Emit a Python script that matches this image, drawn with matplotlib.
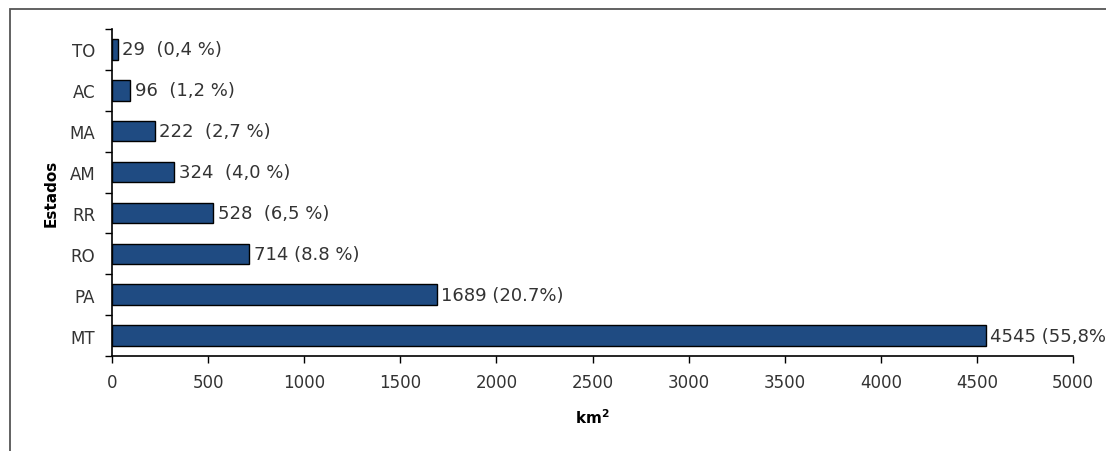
import matplotlib
matplotlib.use("Agg")
import matplotlib.pyplot as plt
from matplotlib.patches import Rectangle
import numpy as np

plt.rcParams['font.family'] = ['DejaVu Sans']

states = ["MT", "PA", "RO", "RR", "AM", "MA", "AC", "TO"]
values = [4545, 1689, 714, 528, 324, 222, 96, 29]
pct_labels = ["(55,8%)", "(20.7%)", "(8.8 %)", "(6,5 %)", "(4,0 %)", "(2,7 %)", "(1,2 %)", "(0,4 %)"]
separators = [" ", " ", " ", "  ", "  ", "  ", "  ", "  "]
xticks = [0, 500, 1000, 1500, 2000, 2500, 3000, 3500, 4000, 4500, 5000]

W, H = 1106, 452
FS = 12
fig = plt.figure(figsize=(W / 100, H / 100), dpi=100)
fig.patch.set_facecolor("white")

# outer frame (cropped on right/bottom)
fig.patches.append(Rectangle((10 / W, -0.05), 1.2, (H - 10) / H + 0.05,
                             transform=fig.transFigure, fill=False,
                             edgecolor="#555555", linewidth=1.3))

ax = fig.add_axes([112 / W, 1 - 357 / H, (1073 - 112) / W, (357 - 30) / H])
y = np.arange(len(states))
ax.barh(y, values, height=0.5, color="#1f4b82", edgecolor="black", linewidth=1.0, zorder=3)

for yi, v, s, p in zip(y, values, separators, pct_labels):
    ax.text(v + 25, yi, f"{v}{s}{p}", va="center", ha="left", fontsize=13,
            color="#333333", clip_on=False)

ax.set_xlim(0, 5000)
ax.set_ylim(-0.5, len(states) - 0.5)
ax.set_xticks(xticks)
ax.set_xticklabels([str(t) for t in xticks], fontsize=FS, color="#333333")
ax.set_yticks(y)
ax.set_yticklabels(states, fontsize=FS, color="#333333")
ax.set_yticks(np.arange(-0.5, len(states), 1.0), minor=True)
ax.tick_params(axis="y", which="major", length=0, pad=12)
ax.tick_params(axis="y", which="minor", length=5, width=1, direction="out")
ax.tick_params(axis="x", which="major", length=5, width=1, direction="out", pad=7)

for sp in ["top", "right"]:
    ax.spines[sp].set_visible(False)
for sp in ["left", "bottom"]:
    ax.spines[sp].set_color("black")
    ax.spines[sp].set_linewidth(1.2)

ax.set_xlabel("km$^\\mathbf{2}$", fontsize=11, fontweight="bold", labelpad=12)
ax.set_ylabel("Estados", fontsize=11, fontweight="bold", labelpad=8)

fig.savefig("out.png", dpi=100)
